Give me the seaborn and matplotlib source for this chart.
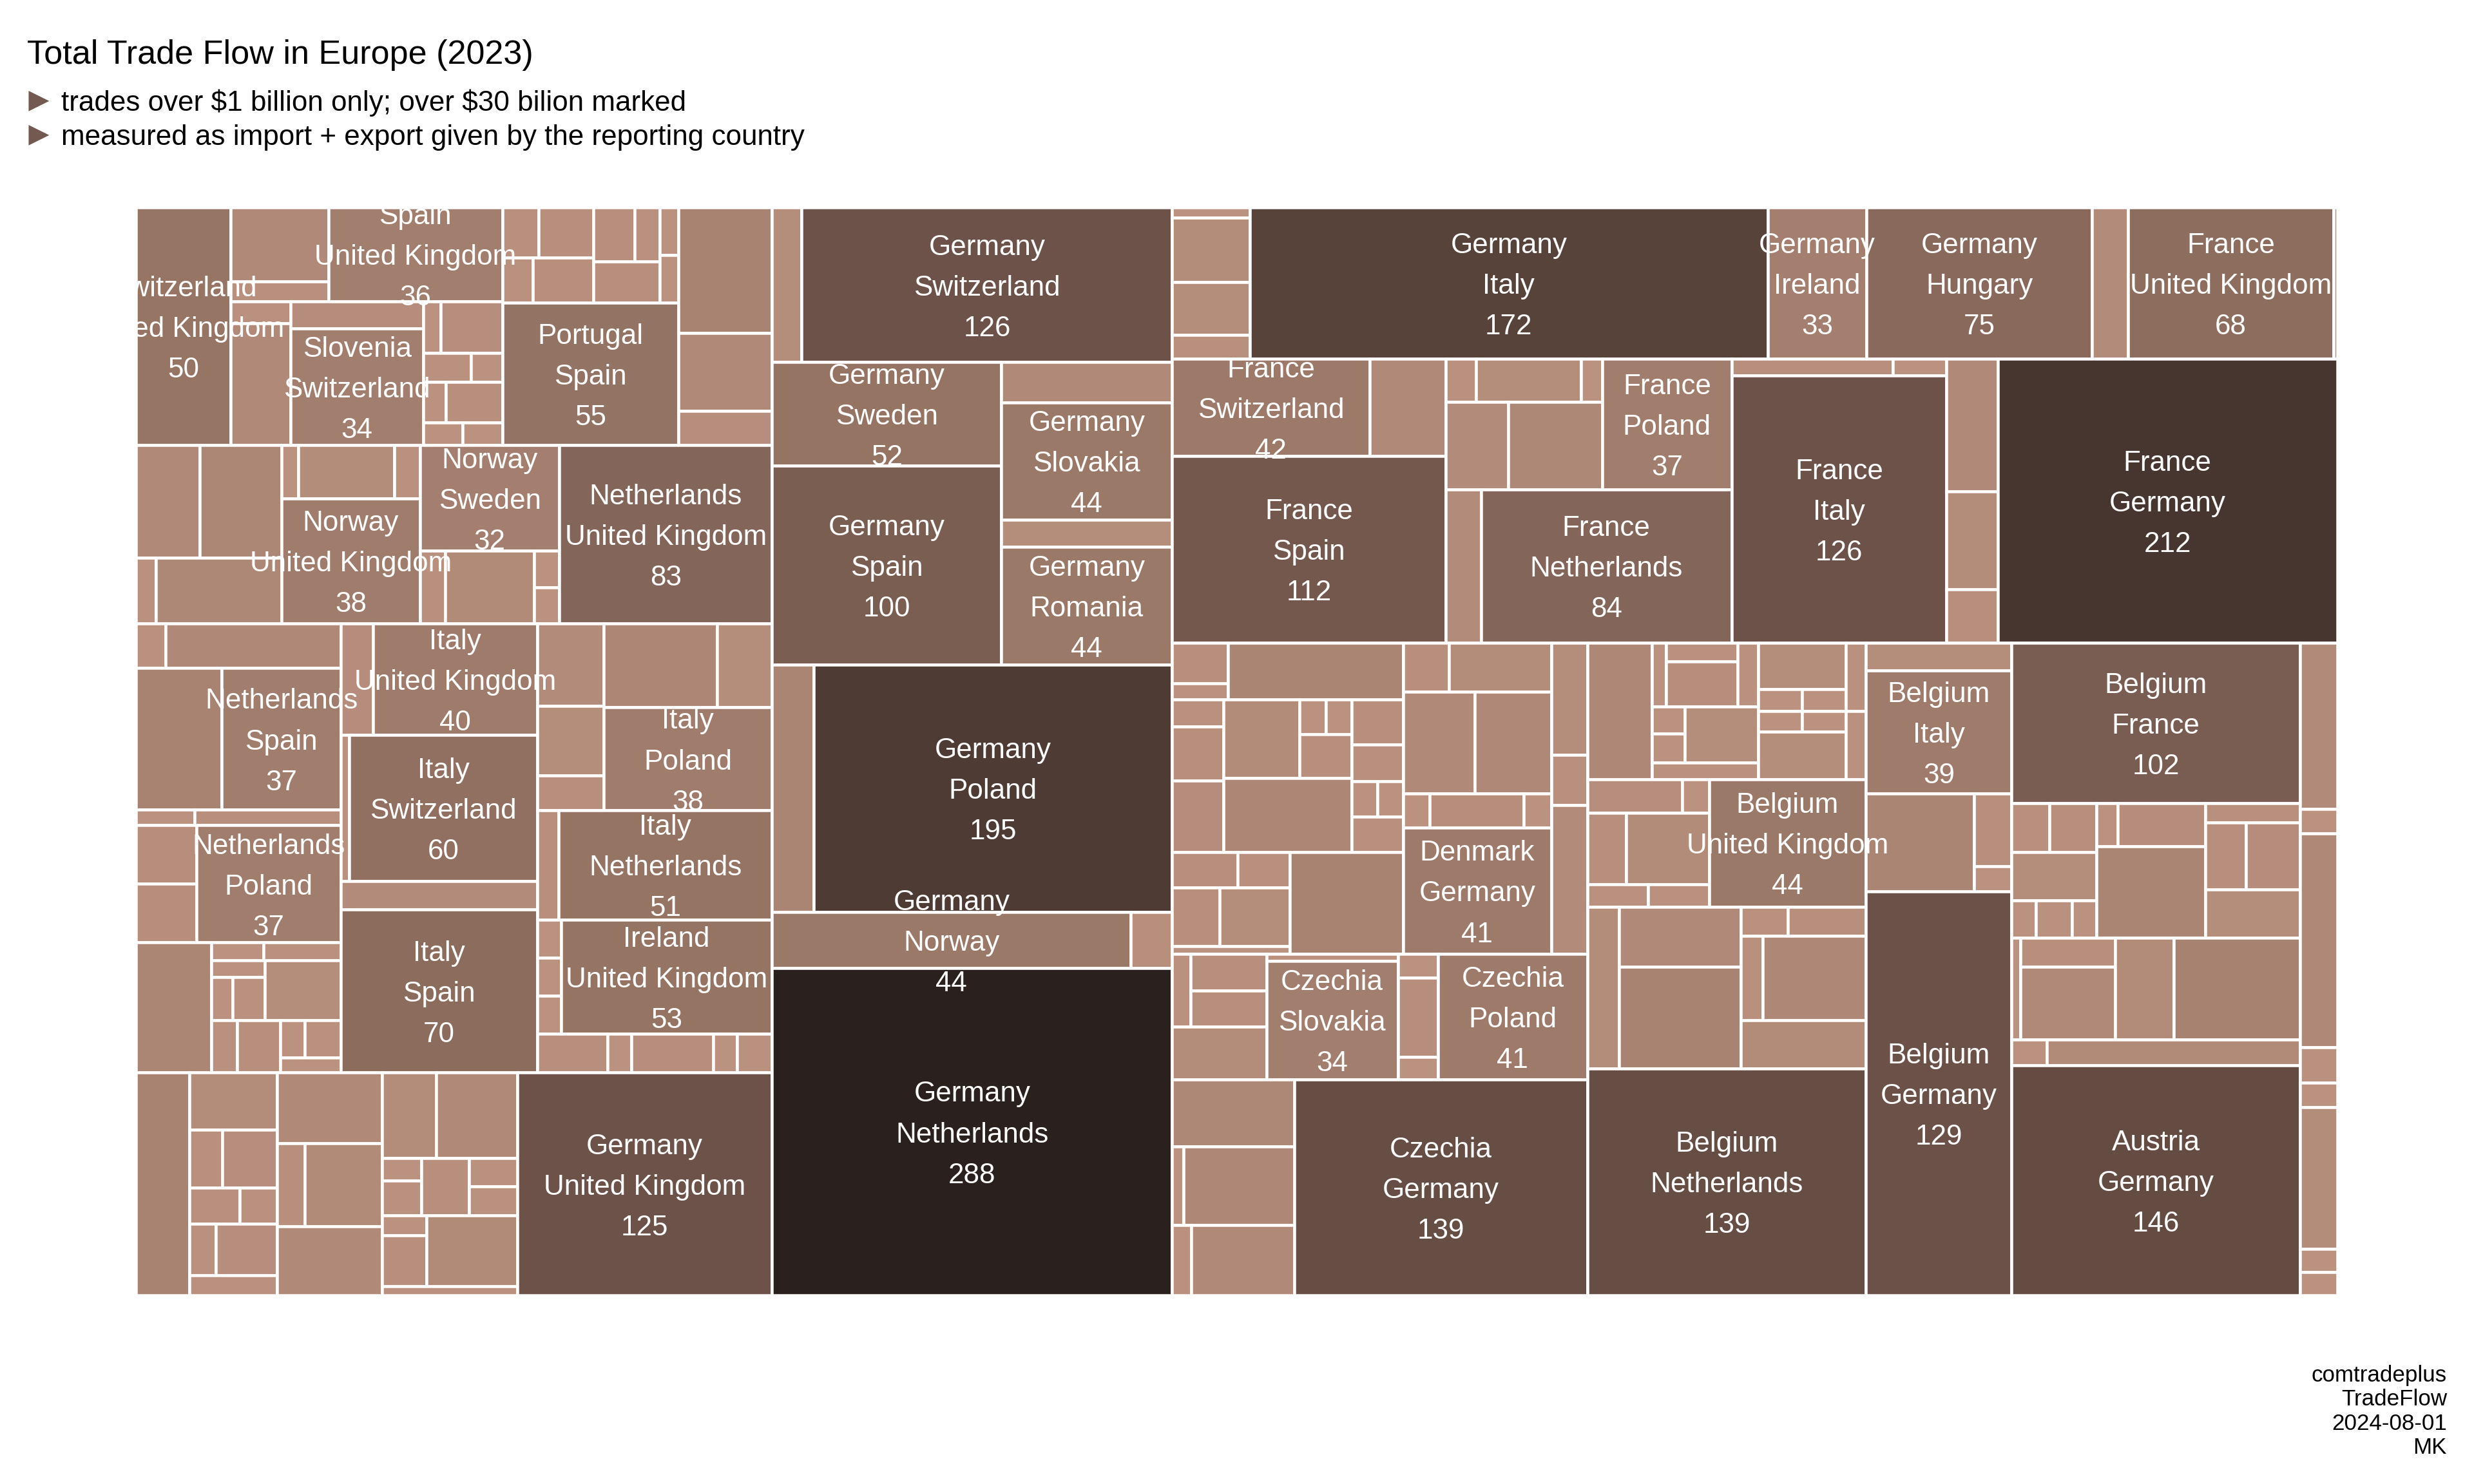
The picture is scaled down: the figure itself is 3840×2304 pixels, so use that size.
import numpy as np
import pandas as pd
import matplotlib
matplotlib.use('Agg')
import matplotlib.pyplot as plt
import seaborn as sns

# treemap blocks: 'x' = children side by side, 'y' = children stacked from the top
# a leaf is a trade value in $ billion, or (reporter, partner, value) when it gets a label
west_row1 = ['x',
    ('Switzerland', 'United Kingdom', 49.6),
    ['y',
        ['x', ['y', 16.0, 4.2], ('Spain', 'United Kingdom', 35.9)],
        ['x', ['y', 2.9, 16.1], ['y', 7.9, ('Slovenia', 'Switzerland', 34.2)],
            ['y', ['x', 2.0, 7.0], ['x', 3.0, 2.0], ['x', 2.0, 5.0], ['x', 2.0, 2.0]]]],
    ['y',
        ['x', ['y', ['x', 4.0, 6.0], ['x', 3.0, 6.0]], ['y', ['x', 4.9, 3.0], 6.0], ['y', 2.0, 2.0]],
        ('Portugal', 'Spain', 55.4)],
    ['y', 25.8, 16.1, 7.0]]

west_row2 = ['x',
    ['y', ['x', 15.8, 20.1], ['x', 2.9, 18.2]],
    ['y', ['x', 2.0, 11.2, 3.0], ('Norway', 'United Kingdom', 38.3)],
    ['y', ('Norway', 'Sweden', 32.4), ['x', 4.0, 14.2, ['y', 2.0, 2.0]]],
    ('Netherlands', 'United Kingdom', 83.4)]

west_row3_left = ['y',
    ['x', 2.9, 17.2],
    ['x', 26.7, ('Netherlands', 'Spain', 37.2)],
    ['x', 2.0, 5.0],
    ['x', ['y', 7.8, 7.8], ('Netherlands', 'Poland', 37.4)],
    ['x', 21.6,
        ['y', ['x', 2.0, 3.0],
            ['x', ['y', 2.0, ['x', 2.0, 3.0]], 10.1],
            ['x', 3.0, 5.0, ['y', ['x', 2.0, 3.0], 2.0]]]]]

west_row3_mid = ['y',
    ['x', 7.9, ('Italy', 'United Kingdom', 40.3)],
    ['x', 2.7, ('Italy', 'Switzerland', 60.4)],
    12.3,
    ('Italy', 'Spain', 70.3)]

west_row3_right = ['y',
    ['x', ['y', 12.1, 10.1, 5.1], ['y', ['x', 21.0, 10.1], ('Italy', 'Poland', 38.1)]],
    ['x', 5.1, ('Italy', 'Netherlands', 51.4)],
    ['x', ['y', 2.0, 2.0, 2.0], ('Ireland', 'United Kingdom', 53.1)],
    ['x', 6.0, 2.0, 7.0, 2.0, 3.0]]

west_row4 = ['x',
    26.3,
    ['y', 11.1, ['x', 4.1, 7.0], ['x', 4.0, 3.0], ['x', 3.0, 7.0], 3.8],
    ['y', 16.2, ['x', 5.0, 14.1], 15.9],
    ['y',
        ['x', 10.2, 15.2],
        ['x', ['y', 2.0, 3.0], 6.0, ['y', 3.0, 3.1]],
        ['x', ['y', 2.0, 5.0], 14.1],
        2.7],
    ('Germany', 'United Kingdom', 125.0)]

west = ['y', west_row1, west_row2,
        ['x', west_row3_left, west_row3_mid, west_row3_right],
        west_row4]

germany_col = ['y',
    ['x', 10.1, ('Germany', 'Switzerland', 126.1)],
    ['x',
        ['y', ('Germany', 'Sweden', 52.3), ('Germany', 'Spain', 100.4)],
        ['y', 15.1, ('Germany', 'Slovakia', 44.2), 10.0, ('Germany', 'Romania', 44.4)]],
    ['x', 22.6, ('Germany', 'Poland', 195.0)],
    ['x', ('Germany', 'Norway', 44.4), 5.1],
    ('Germany', 'Netherlands', 288.0)]

east_top1 = ['x',
    ['y', 1.8, 11.0, 9.0, 4.0],
    ('Germany', 'Italy', 172.4),
    ('Germany', 'Ireland', 32.8),
    ('Germany', 'Hungary', 75.1),
    12.0,
    ('France', 'United Kingdom', 68.3),
    1.3]

east_top2 = ['x',
    ['y', ['x', ('France', 'Switzerland', 42.3), 16.2], ('France', 'Spain', 112.4)],
    ['y',
        ['x',
            ['y', ['x', 2.9, 10.0, 2.0], ['x', 12.1, 18.2]],
            ('France', 'Poland', 37.2)],
        ['x', 12.0, ('France', 'Netherlands', 84.4)]],
    ['y', ['x', 6.0, 2.0], ('France', 'Italy', 126.4)],
    ['y', 14.9, 11.0, 6.0],
    ('France', 'Germany', 212.4)]

czech_block1 = ['y',
    ['x', ['y', 5.0, 2.0], 21.9],
    ['x',
        ['y', 3.1, 6.1, 8.1],
        ['x',
            ['y', ['x', 13.1, ['y', ['x', 2.0, 2.0], 5.0]], 20.9],
            ['y', 5.1, 4.1, ['x', 2.0, 2.0], 4.0]]],
    ['x', ['y', ['x', 5.1, 4.1], ['x', 6.1, 9.1], 2.0], 25.4]]

czech_block2 = ['y',
    ['x', 5.0, 11.1],
    ['x', 16.0, 17.1],
    ['x', 2.0, 7.1, 2.1],
    ('Denmark', 'Germany', 41.1)]

czech_low = ['x',
    ['y', ['x', 3.0, ['y', 6.1, 6.0]], 11.0],
    ['y', 2.0, ('Czechia', 'Slovakia', 34.3)],
    ['y', 2.1, 7.0, 2.0],
    ('Czechia', 'Poland', 41.3)]

czech_col = ['y',
    ['x', czech_block1, czech_block2, ['y', 8.9, 4.0, 11.8]],
    czech_low,
    ['x', ['y', 18.1, ['x', 2.0, 19.1], ['x', 3.0, 16.0]], ('Czechia', 'Germany', 139.1)]]

benelux_col = ['y',
    ['x',
        19.3,
        ['y',
            ['x', 2.0, ['y', 3.0, 7.1], 2.9],
            ['x', ['y', 2.0, 2.1], 9.1],
            3.9],
        ['x',
            ['y', 9.0, ['x', 2.1, 2.1], ['x', 2.0, 2.0], 9.1],
            ['y', 3.0, 3.0]]],
    ['x',
        ['y', ['x', 7.0, 2.0], ['x', 6.1, 13.1], ['x', 3.0, 3.0]],
        ('Belgium', 'United Kingdom', 44.2)],
    ['x',
        11.2,
        ['y', 16.1, 27.2],
        ['y', ['x', 3.0, 5.0], ['x', 4.1, 19.2], 13.2]],
    ('Belgium', 'Netherlands', 139.1)]

belgium_col = ['y',
    9.0,
    ('Belgium', 'Italy', 39.3),
    ['x', 23.3, ['y', 6.1, 2.1]],
    ('Belgium', 'Germany', 129.4)]

austria_col = ['y',
    ('Belgium', 'France', 102.1),
    ['x',
        ['y', ['x', 4.0, 5.0], 9.0, ['x', 2.0, 3.0, 2.0]],
        ['y', ['x', 2.0, 8.2], 22.0],
        ['y', 4.0, ['x', 6.0, 8.0], 10.1]],
    ['x', 1.9, ['y', 6.1, 15.2], 13.1, 28.3],
    ['x', 2.0, 14.4],
    ('Austria', 'Germany', 145.8)]

edge_col = ['y', 13.7, 2.0, 17.6, 2.9, 2.0, 11.7, 1.9, 1.9]

east = ['y', east_top1, east_top2,
        ['x', czech_col, benelux_col, belgium_col, austria_col, edge_col]]

treemap = ['x', west, germany_col, east]

title = 'Total Trade Flow in Europe (2023)'
notes = [r'trades over \$1 billion only; over \$30 bilion marked',
         'measured as import + export given by the reporting country']
caption = 'comtradeplus\nTradeFlow\n2024-08-01\nMK'


def node_total(node):
    if isinstance(node, list):
        return sum(node_total(child) for child in node[1:])
    if isinstance(node, tuple):
        return node[2]
    return node


def split_node(node, x, y, w, h, rows):
    if isinstance(node, list):
        total = node_total(node)
        for child in node[1:]:
            share = node_total(child) / total
            if node[0] == 'x':
                split_node(child, x, y, w * share, h, rows)
                x += w * share
            else:
                split_node(child, x, y, w, h * share, rows)
                y += h * share
    elif isinstance(node, tuple):
        rows.append(dict(x=x, y=y, w=w, h=h, reporter=node[0], partner=node[1], value=node[2]))
    else:
        rows.append(dict(x=x, y=y, w=w, h=h, reporter=None, partner=None, value=node))


rows = []
split_node(treemap, 0, 0, 1, 1, rows)
cells = pd.DataFrame(rows)

sns.set_theme(style='white')
plt.rcParams['font.family'] = ['Liberation Sans', 'DejaVu Sans']

# colour scale of the cells, small trades light, large ones dark
trade_cmap = sns.blend_palette(['#BC9280', '#967565', '#6C5249', '#47362F', '#2A201D'], as_cmap=True)
scale_pos = np.interp(cells['value'], [0, 50, 126, 212, 288], [0, 0.25, 0.5, 0.75, 1])

fig = plt.figure(figsize=(16, 9.6), dpi=240, facecolor='white')
# panel a little larger than the cells' visible area, the outer half of the white edge falls outside
ax = fig.add_axes([211 / 3840, 1 - 2011 / 2304, 3417 / 3840, 1689 / 2304])
ax.bar(cells['x'], cells['h'], width=cells['w'], bottom=cells['y'], align='edge',
       color=trade_cmap(scale_pos), edgecolor='white', linewidth=1.35)
ax.set_xlim(0, 1)
ax.set_ylim(1, 0)
ax.axis('off')

labelled = cells[cells['reporter'].notna()]
for cell in labelled.itertuples():
    ax.annotate(f'{cell.reporter}\n{cell.partner}\n{cell.value:.0f}',
                xy=(cell.x + cell.w / 2, cell.y + cell.h / 2),
                xytext=(0, -1.5), textcoords='offset points',
                ha='center', va='center', ma='center', color='white',
                fontsize=13.2, linespacing=1.69, annotation_clip=False, clip_on=True)

fig.text(42 / 3840, 1 - 99 / 2304, title, fontsize=15.65, color='black', va='baseline')
for note, base in zip(notes, [172, 225]):
    fig.text(34 / 3840, 1 - base / 2304, '\u25ba', fontsize=16, color='#735A50', va='baseline')
    fig.text(95 / 3840, 1 - base / 2304, note, fontsize=13.2, color='black', va='baseline')
fig.text(3798 / 3840, 1 - 2257 / 2304, caption, fontsize=10.5, color='black',
         ha='right', va='baseline', ma='right', linespacing=1.17)

fig.savefig('out.png', dpi=240)
